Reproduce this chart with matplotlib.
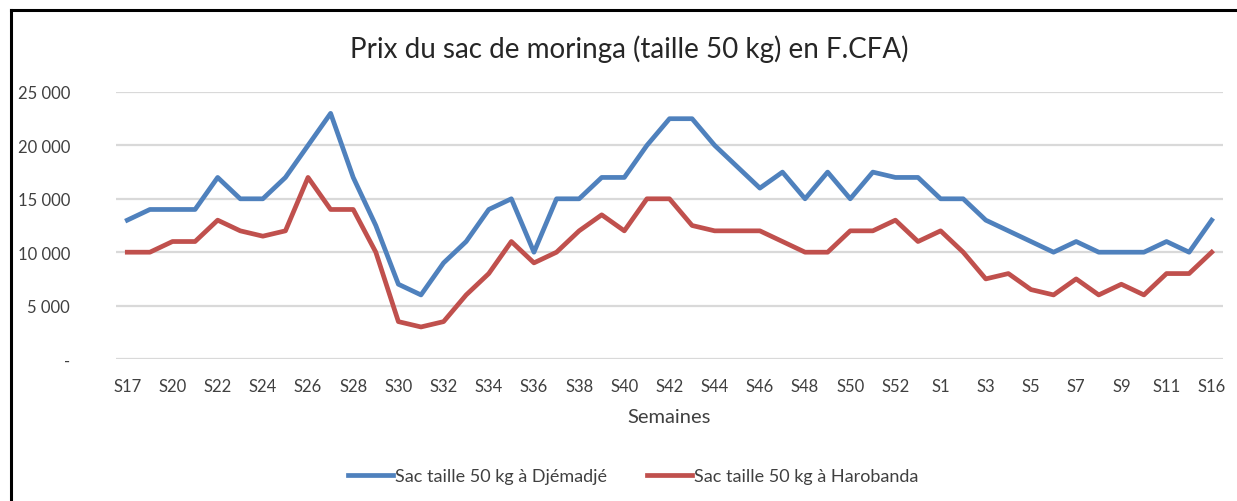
import matplotlib
matplotlib.use("Agg")
import matplotlib.pyplot as plt
from matplotlib.lines import Line2D

plt.rcParams['font.family'] = ['Lato', 'DejaVu Sans']

semaines = ["S17", "S19", "S20", "S21", "S22", "S23", "S24", "S25", "S26", "S27",
            "S28", "S29", "S30", "S31", "S32", "S33", "S34", "S35", "S36", "S37",
            "S38", "S39", "S40", "S41", "S42", "S43", "S44", "S45", "S46", "S47",
            "S48", "S49", "S50", "S51", "S52", "S53", "S1", "S2", "S3", "S4",
            "S5", "S6", "S7", "S8", "S9", "S10", "S11", "S12", "S16"]

djemadje = [13000, 14000, 14000, 14000, 17000, 15000, 15000, 17000, 20000, 23000,
            17000, 12500, 7000, 6000, 9000, 11000, 14000, 15000, 10000, 15000,
            15000, 17000, 17000, 20000, 22500, 22500, 20000, 18000, 16000, 17500,
            15000, 17500, 15000, 17500, 17000, 17000, 15000, 15000, 13000, 12000,
            11000, 10000, 11000, 10000, 10000, 10000, 11000, 10000, 13000]

harobanda = [10000, 10000, 11000, 11000, 13000, 12000, 11500, 12000, 17000, 14000,
             14000, 10000, 3500, 3000, 3500, 6000, 8000, 11000, 9000, 10000,
             12000, 13500, 12000, 15000, 15000, 12500, 12000, 12000, 12000, 11000,
             10000, 10000, 12000, 12000, 13000, 11000, 12000, 10000, 7500, 8000,
             6500, 6000, 7500, 6000, 7000, 6000, 8000, 8000, 10000]

y_ticks = [0, 5000, 10000, 15000, 20000, 25000]
y_labels = ["-", "5 000", "10 000", "15 000", "20 000", "25 000"]

W, H = 1237, 502
fig = plt.figure(figsize=(W / 100, H / 100), dpi=100)
fig.patch.set_facecolor("white")

left, right = 116 / W, 1223 / W
bottom, top = 1 - 360 / H, 1 - 93 / H
ax = fig.add_axes([left, bottom, right - left, top - bottom])

x = list(range(len(semaines)))
ax.plot(x, djemadje, color="#4F81BD", lw=3.4, solid_joinstyle="round",
        label="Sac taille 50 kg à Djémadjé", zorder=3)
ax.plot(x, harobanda, color="#C0504D", lw=3.4, solid_joinstyle="round",
        label="Sac taille 50 kg à Harobanda", zorder=3)

ax.set_xlim(-0.5, len(semaines) - 0.5)
ax.set_ylim(0, 25000)
ax.set_yticks(y_ticks)
ax.set_yticklabels(y_labels)
ax.yaxis.grid(True, color="#D9D9D9", lw=1.6)
ax.set_axisbelow(True)
for s in ax.spines.values():
    s.set_visible(False)
ax.tick_params(axis="y", length=0, pad=33, labelsize=12, labelcolor="#404040")

shown = list(range(0, len(semaines), 2))
ax.set_xticks(shown)
ax.set_xticklabels([semaines[i] for i in shown])
ax.tick_params(axis="x", length=0, pad=14, labelsize=12, labelcolor="#404040")

ax.set_xlabel("Semaines", fontsize=14.5, color="#404040", labelpad=10)

fig.text(629 / W, 1 - 49 / H, "Prix du sac de moringa (taille 50 kg) en F.CFA)",
         ha="center", va="center", fontsize=20, color="#262626")

leg = fig.legend(loc="center", bbox_to_anchor=(633 / W, 1 - 477 / H), ncol=2,
                 frameon=False, fontsize=13, handlelength=2.5,
                 columnspacing=2.2, handletextpad=0.1)
for t in leg.get_texts():
    t.set_color("#404040")

fig.add_artist(Line2D([11 / W, 1.0], [1 - 11 / H, 1 - 11 / H], color="black", lw=2.2,
                      transform=fig.transFigure))
fig.add_artist(Line2D([11 / W, 11 / W], [1 - 11 / H, 0.0], color="black", lw=2.2,
                      transform=fig.transFigure))

fig.savefig("out.png", dpi=100)
